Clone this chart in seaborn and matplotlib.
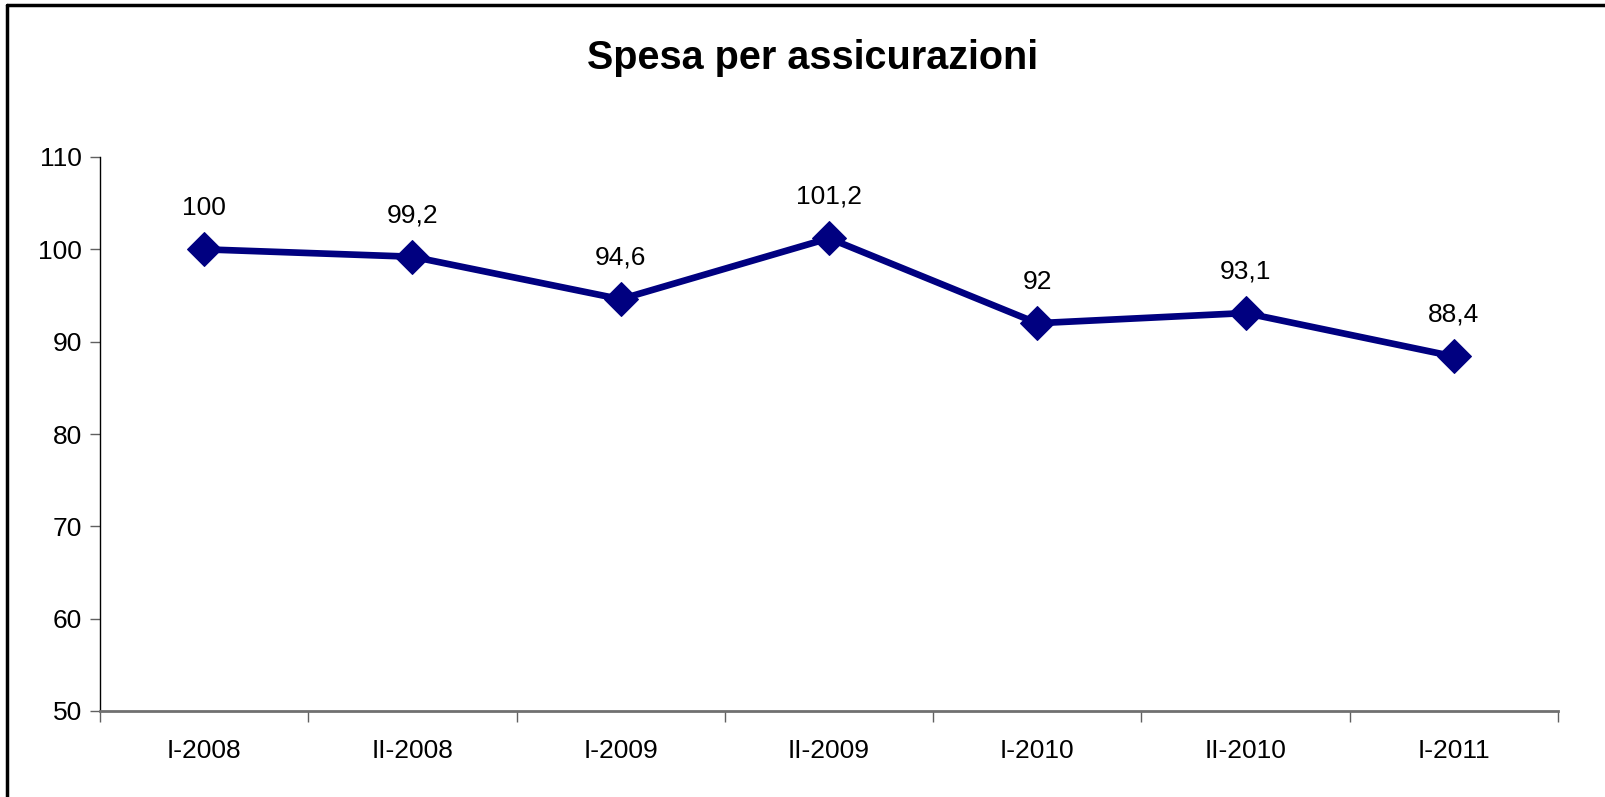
import matplotlib
matplotlib.use("Agg")
import matplotlib.pyplot as plt
import seaborn as sns
import pandas as pd
from matplotlib.lines import Line2D

# data
periods = ["I-2008", "II-2008", "I-2009", "II-2009", "I-2010", "II-2010", "I-2011"]
values = [100, 99.2, 94.6, 101.2, 92, 93.1, 88.4]
labels = ["100", "99,2", "94,6", "101,2", "92", "93,1", "88,4"]

df = pd.DataFrame({"periodo": periods, "spesa": values})

sns.set_style("ticks")
plt.rcParams["font.family"] = ["Liberation Sans", "DejaVu Sans"]
plt.rcParams["text.color"] = "black"
plt.rcParams["xtick.color"] = "black"
plt.rcParams["ytick.color"] = "black"

fig = plt.figure(figsize=(16.06, 7.97), dpi=100)
ax = fig.add_axes([100 / 1606, 1 - 711 / 797, (1558 - 100) / 1606, (711 - 157) / 797])

sns.lineplot(data=df, x="periodo", y="spesa", ax=ax, color="#000080",
             linewidth=4.8, marker="D", markersize=17, markeredgecolor="#000080")

for i, (v, t) in enumerate(zip(values, labels)):
    ax.annotate(t, (i, v), xytext=(0, 30), textcoords="offset points",
                ha="center", va="center", fontsize=19, color="black")

ax.set_ylim(50, 110)
ax.set_yticks(range(50, 111, 10))
ax.set_xlim(-0.5, len(periods) - 0.5)
ax.set_xticks(range(len(periods)))
ax.set_xticklabels(periods)
ax.set_xticks([i - 0.5 for i in range(len(periods) + 1)], minor=True)
ax.tick_params(axis="x", which="major", bottom=True, length=0, pad=20, labelsize=19)
ax.tick_params(axis="x", which="minor", bottom=True, length=8, width=1, color="#606060", direction="out")
ax.tick_params(axis="y", left=True, length=7, width=1, color="#606060", direction="out", labelsize=19, pad=6)
ax.set_xlabel("")
ax.set_ylabel("")

for s in ["top", "right"]:
    ax.spines[s].set_visible(False)
ax.spines["left"].set_color("black")
ax.spines["left"].set_linewidth(1)
ax.spines["bottom"].set_color("#707070")
ax.spines["bottom"].set_linewidth(2)

fig.text(0.506, 1 - 58 / 797, "Spesa per assicurazioni", ha="center", va="center",
         fontsize=28.5, fontweight="bold", color="black")

# chart frame (only top and left edges are visible in the original)
fig.add_artist(Line2D([7 / 1606, 1.0], [1 - 5 / 797, 1 - 5 / 797], transform=fig.transFigure,
                      color="black", linewidth=2.5))
fig.add_artist(Line2D([7 / 1606, 7 / 1606], [0, 1 - 5 / 797], transform=fig.transFigure,
                      color="black", linewidth=2.5))

fig.savefig("out.png", dpi=100)
